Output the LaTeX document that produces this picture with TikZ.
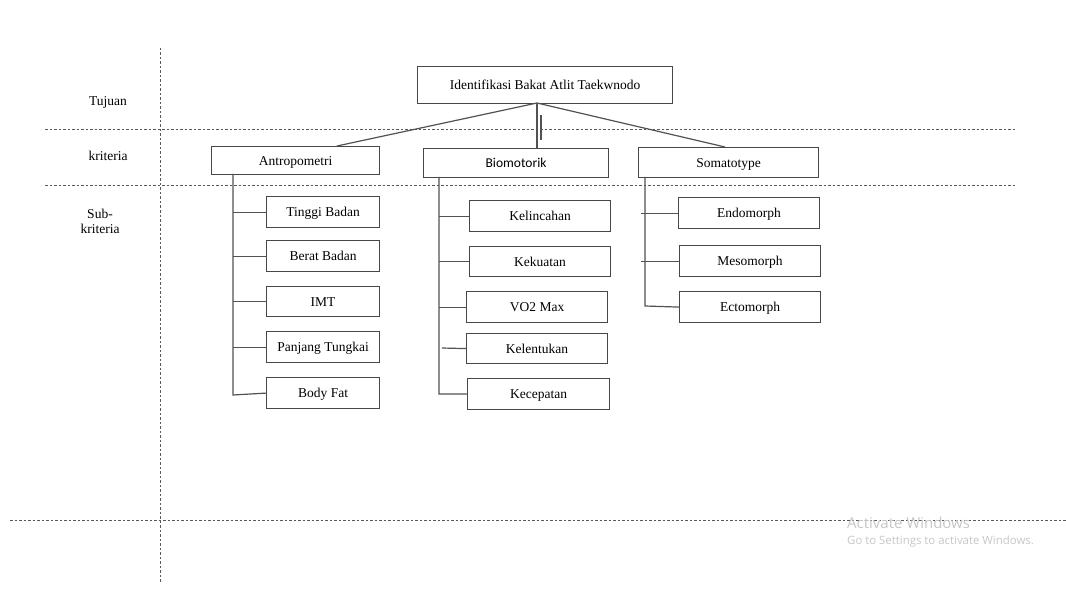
\documentclass[tikz,border=0pt]{standalone}
\usepackage{fontspec}
\setmainfont{Liberation Serif}
\newfontfamily\calib{Carlito}
\newfontfamily\segoe{Open Sans}
\begin{document}
\begin{tikzpicture}[x=1pt,y=-1pt,
  box/.style={draw=black!72,line width=1.2pt,rectangle,inner sep=0pt,anchor=north west,text height=9pt,text depth=0pt,font=\fontsize{13.5}{15}\selectfont},
  conn/.style={draw=black!68,line width=1.2pt},
  sep/.style={draw=black!65,line width=0.9pt,dash pattern=on 2.5pt off 2pt},
  lbl/.style={font=\fontsize{13.5}{15}\selectfont,align=center}]
\useasboundingbox (0,0) rectangle (1066,607);
\fill[white] (0,0) rectangle (1066,607);
% separators
\draw[sep] (160,48) -- (160,582);
\draw[sep] (45,129) -- (1015,129);
\draw[sep] (45,185) -- (1015,185);
\draw[sep] (10,520) -- (1066,520);
% row labels
\node[lbl] (tujuan) at (108,102) {Tujuan};
\node[lbl] (kriteria) at (108,156) {kriteria};
\node[lbl] (subkrit) at (100,221) {Sub-\\[0pt]kriteria};
% top
\node[box,minimum width=255pt,minimum height=37pt] (top) at (417,66) {Identifikasi Bakat Atlit Taekwnodo};
% criteria
\node[box,minimum width=168pt,minimum height=28pt] (antro) at (211,146) {Antropometri};
\node[box,minimum width=185pt,minimum height=29pt,font=\calib\fontsize{13.5}{15}\selectfont] (bio) at (423,148) {Biomotorik};
\node[box,minimum width=180pt,minimum height=30pt] (soma) at (638,147) {Somatotype};
\coordinate (tb) at (537,103);
\draw[conn] (tb) -- (337,146);
\draw[conn] (tb) -- (537,148);
\draw[conn] (tb) -- (725,147);
\coordinate (m1) at (541,115);
\coordinate (m2) at (541,140);
\draw[conn] (m1) -- (m2);
% Antropometri subs
\node[box,minimum width=113pt,minimum height=31pt] (tinggi) at (266,196) {Tinggi Badan};
\node[box,minimum width=113pt,minimum height=31pt] (berat) at (266,240) {Berat Badan};
\node[box,minimum width=113pt,minimum height=30pt] (imt) at (266,286) {IMT};
\node[box,minimum width=113pt,minimum height=31pt] (panjang) at (266,331) {Panjang Tungkai};
\node[box,minimum width=113pt,minimum height=31pt] (bodyfat) at (266,377) {Body Fat};
\coordinate (at0) at (233,174);
\coordinate (at1) at (233,395);
\draw[conn] (at0) -- (at1) -- (bodyfat.west);
\foreach \n in {tinggi,berat,imt,panjang} \draw[conn] (\n.west) -- (233,0 |- \n.west);
% Biomotorik subs
\node[box,minimum width=141pt,minimum height=31pt] (kelincahan) at (469,200) {Kelincahan};
\node[box,minimum width=141pt,minimum height=30pt] (kekuatan) at (469,246) {Kekuatan};
\node[box,minimum width=141pt,minimum height=31pt] (vo2) at (466,291) {VO2 Max};
\node[box,minimum width=141pt,minimum height=30pt] (kelentukan) at (466,333) {Kelentukan};
\node[box,minimum width=142pt,minimum height=31pt] (kecepatan) at (467,378) {Kecepatan};
\coordinate (bt0) at (439,177);
\coordinate (bt1) at (439,394);
\draw[conn] (bt0) -- (bt1) -- (kecepatan.west);
\foreach \n in {kelincahan,kekuatan,vo2} \draw[conn] (\n.west) -- (439,0 |- \n.west);
\coordinate (kl) at (442,348);
\draw[conn] (kl) -- (kelentukan.west);
% Somatotype subs
\node[box,minimum width=141pt,minimum height=31pt] (endo) at (678,197) {Endomorph};
\node[box,minimum width=141pt,minimum height=31pt] (meso) at (679,245) {Mesomorph};
\node[box,minimum width=141pt,minimum height=31pt] (ecto) at (679,291) {Ectomorph};
\coordinate (st0) at (645,177);
\coordinate (st1) at (645,306);
\draw[conn] (st0) -- (st1) -- (ecto.west);
\foreach \n in {endo,meso} \draw[conn] (\n.west) -- (641,0 |- \n.west);
% watermark
\node[anchor=west,text=black!22,font=\segoe\fontsize{15}{17}\selectfont,inner sep=0pt] (wm1) at (847,523) {Activate Windows};
\node[anchor=west,text=black!22,font=\segoe\fontsize{11.4}{13}\selectfont,inner sep=0pt] (wm2) at (847,542) {Go to Settings to activate Windows.};
\end{tikzpicture}
\end{document}
